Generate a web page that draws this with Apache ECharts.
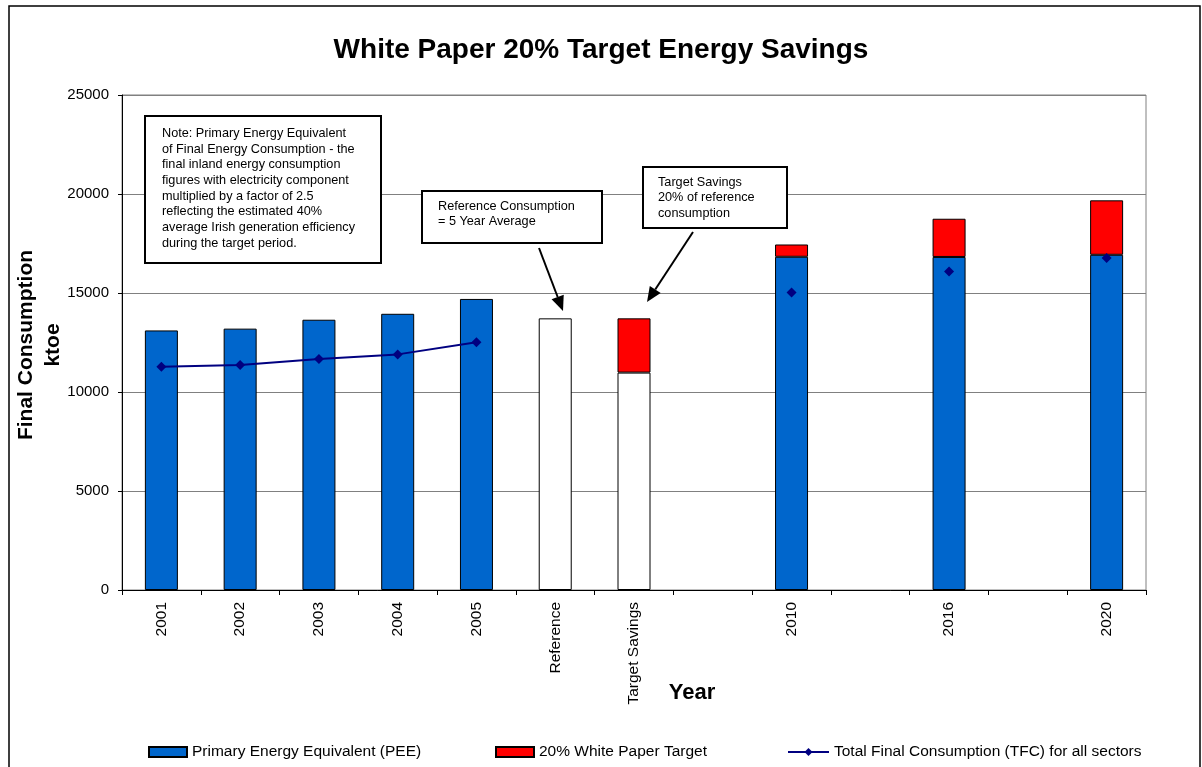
<!DOCTYPE html>
<html>
<head>
<meta charset="utf-8">
<title>White Paper 20% Target Energy Savings</title>
<script src="https://cdn.jsdelivr.net/npm/echarts@6/dist/echarts.min.js"></script>
<style>
  html, body { margin: 0; padding: 0; background: #fff; }
  #main { width: 1202px; height: 767px; }
</style>
</head>
<body>
<div id="main"></div>
<script>
// Categories along the x axis (blank slots keep the gaps between projection years)
const categories = ['2001', '2002', '2003', '2004', '2005', 'Reference', 'Target Savings', '', '2010', '', '2016', '', '2020'];
// Primary Energy Equivalent (ktoe); Reference / Target Savings drawn as white bars
const peeValues = [13110, 13200, 13650, 13950, 14700, 13720, 10980, null, 16830, null, 16820, null, 16930];
// 20% White Paper Target savings stacked on top (ktoe)
const targetValues = [null, null, null, null, null, null, 2740, null, 620, null, 1930, null, 2750];
// Total Final Consumption for all sectors (ktoe)
const tfcValues = [11280, 11360, 11670, 11900, 12510, null, null, null, 15020, null, 16090, null, 16770];
const whiteCategories = ['Reference', 'Target Savings'];
const yTicks = { min: 0, max: 25000, interval: 5000 };

const FONT = '"Liberation Sans", Arial, Helvetica, sans-serif';
const chart = echarts.init(document.getElementById('main'), null, { renderer: 'canvas' });

const peeData = peeValues.map((v, i) => whiteCategories.includes(categories[i])
  ? { value: v, itemStyle: { color: '#ffffff' } }
  : v);

// Arrow helper: shaft + filled head, from start point to tip
function arrow(x1, y1, x2, y2) {
  const dx = x2 - x1, dy = y2 - y1;
  const len = Math.sqrt(dx * dx + dy * dy);
  const ux = dx / len, uy = dy / len;
  const headLen = 15, half = 6.5;
  const bx = x2 - ux * headLen, by = y2 - uy * headLen;
  const px = -uy * half, py = ux * half;
  return [
    { type: 'line', z: 100, shape: { x1: x1, y1: y1, x2: bx, y2: by }, style: { stroke: '#000', lineWidth: 2 } },
    { type: 'polygon', z: 100, shape: { points: [[x2, y2], [bx + px, by + py], [bx - px, by - py]] }, style: { fill: '#000' } }
  ];
}

function noteBox(x, y, w, h, tx, ty, text, lh) {
  return [
    { type: 'rect', z: 100, shape: { x: x, y: y, width: w, height: h }, style: { fill: '#fff', stroke: '#000', lineWidth: 2 } },
    { type: 'text', z: 101, x: tx, y: ty, style: { text: text, fill: '#000', font: '12.7px ' + FONT, lineHeight: lh, verticalAlign: 'top', align: 'left' } }
  ];
}

const graphics = [].concat(
  [{ type: 'rect', z: 0, silent: true, shape: { x: 9, y: 6, width: 1191, height: 820 }, style: { fill: 'none', stroke: '#000', lineWidth: 1.5 } }],
  noteBox(145, 116, 236, 147, 162, 125.5,
    'Note: Primary Energy Equivalent\nof Final Energy Consumption - the\nfinal inland energy consumption\nfigures with electricity component\nmultiplied by a factor of 2.5\nreflecting the estimated 40%\naverage Irish generation efficiency\nduring the target period.', 15.7),
  noteBox(422, 191, 180, 52, 438, 199.2, 'Reference Consumption\n= 5 Year Average', 15),
  noteBox(643, 167, 144, 61, 658, 174.5, 'Target Savings\n20% of reference\nconsumption', 15.5),
  arrow(539, 248, 563, 311),
  arrow(693, 232, 647, 302),
  [
    // y-axis title, two lines read bottom-to-top
    { type: 'text', z: 100, x: 40, y: 345, rotation: Math.PI / 2,
      style: { text: 'Final Consumption\nktoe', fill: '#000', font: 'bold 21px ' + FONT, lineHeight: 27, align: 'center', verticalAlign: 'middle' } },
    // x-axis title
    { type: 'text', z: 100, x: 692, y: 693,
      style: { text: 'Year', fill: '#000', font: 'bold 22px ' + FONT, align: 'center', verticalAlign: 'middle' } }
  ]
);

const legendBase = {
  orient: 'horizontal',
  top: 739,
  itemHeight: 10,
  itemGap: 5,
  textStyle: { fontSize: 15.5, color: '#000', fontFamily: FONT },
  selectedMode: false
};

const option = {
  animation: false,
  backgroundColor: '#fff',
  textStyle: { fontFamily: FONT },
  title: {
    text: 'White Paper 20% Target Energy Savings',
    left: 'center',
    top: 31,
    textStyle: { fontSize: 28, fontWeight: 'bold', color: '#000', fontFamily: FONT }
  },
  grid: {
    left: 122, right: 56, top: 95, bottom: 177,
    containLabel: false,
    outerBoundsMode: 'none',
    show: true, borderColor: '#808080', borderWidth: 1
  },
  legend: [
    Object.assign({}, legendBase, { left: 143, itemWidth: 38, icon: 'rect', data: ['Primary Energy Equivalent (PEE)'] }),
    Object.assign({}, legendBase, { left: 490, itemWidth: 38, icon: 'rect', data: ['20% White Paper Target'] }),
    Object.assign({}, legendBase, { left: 782, itemWidth: 41, data: ['Total Final Consumption (TFC) for all sectors'] })
  ],
  xAxis: {
    type: 'category',
    data: categories,
    axisLine: { lineStyle: { color: '#000', width: 1 } },
    axisTick: { show: true, length: 5, lineStyle: { color: '#000' } },
    axisLabel: { rotate: 90, interval: 0, fontSize: 15.5, color: '#000', margin: 12, fontFamily: FONT },
    splitLine: { show: false }
  },
  yAxis: {
    type: 'value',
    min: yTicks.min,
    max: yTicks.max,
    interval: yTicks.interval,
    axisLine: { show: true, lineStyle: { color: '#000', width: 1 } },
    axisTick: { show: true, length: 4, lineStyle: { color: '#000' } },
    axisLabel: { fontSize: 15, color: '#000', margin: 13, fontFamily: FONT, formatter: v => String(v) },
    splitLine: { show: true, lineStyle: { color: '#808080', width: 1 } }
  },
  series: [
    {
      name: 'Primary Energy Equivalent (PEE)',
      type: 'bar',
      stack: 'total',
      barWidth: 33,
      data: peeData,
      itemStyle: { color: '#0066CC', borderColor: '#000', borderWidth: 1 }
    },
    {
      name: '20% White Paper Target',
      type: 'bar',
      stack: 'total',
      barWidth: 33,
      data: targetValues,
      itemStyle: { color: '#FF0000', borderColor: '#000', borderWidth: 1 }
    },
    {
      name: 'Total Final Consumption (TFC) for all sectors',
      type: 'line',
      data: tfcValues,
      connectNulls: false,
      symbol: 'diamond',
      symbolSize: 10,
      showSymbol: true,
      showAllSymbol: true,
      lineStyle: { color: '#000080', width: 2 },
      itemStyle: { color: '#000080' },
      z: 5
    }
  ],
  graphic: { elements: graphics }
};

chart.setOption(option);
</script>
</body>
</html>
